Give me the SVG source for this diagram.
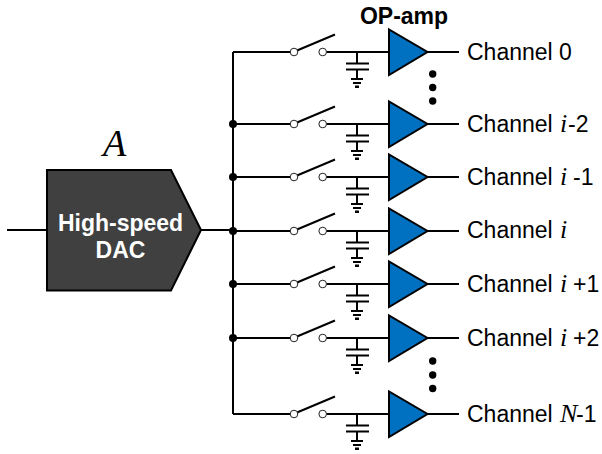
<svg xmlns="http://www.w3.org/2000/svg" width="602" height="454" viewBox="0 0 602 454">
<style>
.w{fill:none;stroke:#000;stroke-width:2}
.t{font:23px "Liberation Sans",Arial,sans-serif;fill:#000}
.b{font:bold 23px "Liberation Sans",Arial,sans-serif}
.m{font:italic 26px "Liberation Serif","Times New Roman",serif}
.amp{fill:#0070c0;stroke:#000;stroke-width:2}
.sw{fill:#fff;stroke:#222;stroke-width:1}
</style>
<defs>
<g id="ch">
<path class="w" d="M297.500 0H290M326.500 0H389M297 -1.500L335 -17.500M357 0V11.500M346 11.500H369M346 17.500H369M357 17.500V27M351 27H363M353 31H361" />
<path d="M355 33.500h4v2.500h-4z"/>
<circle class="sw" cx="294" cy="0" r="3.800"/><circle class="sw" cx="322.700" cy="0" r="3.800"/>
<path class="amp" d="M389 -22.500V23L427.500 0Z"/>
<path class="w" d="M427.500 0H459"/>
</g>
</defs>
<g id="connectors">
<path class="w" d="M7 230H47M201 230H233M233 52V414M233 52H290M233 124H290M233 177H290M233 231H290M233 284H290M233 338H290M233 414H290"/>
<circle cx="233" cy="124" r="4"/><circle cx="233" cy="177" r="4"/><circle cx="233" cy="231" r="4"/><circle cx="233" cy="284" r="4"/><circle cx="233" cy="338" r="4"/>
</g>
<g id="dac">
<path d="M47 170H171L201 230L171 290.500H47Z" fill="#404040" stroke="#000" stroke-width="2"/>
<text class="b" x="120.500" y="231" text-anchor="middle" fill="#fff">High-speed</text>
<text class="b" x="120.500" y="258" text-anchor="middle" fill="#fff">DAC</text>
<text x="103" y="156" font-family="Liberation Serif,serif" font-style="italic" font-size="38">A</text>
</g>
<text id="opamp-label" class="b" x="404" y="24" text-anchor="middle">OP-amp</text>
<g id="channel-0"><use href="#ch" y="52"/><text class="t" x="467" y="60">Channel 0</text></g>
<g id="channel-i-2"><use href="#ch" y="124"/><text class="t" x="467" y="132">Channel</text><text class="m" x="560" y="132">i</text><text class="t" x="568" y="132">-2</text></g>
<g id="channel-i-1"><use href="#ch" y="177"/><text class="t" x="467" y="185">Channel</text><text class="m" x="560" y="185">i</text><text class="t" x="573" y="185">-1</text></g>
<g id="channel-i"><use href="#ch" y="231"/><text class="t" x="467" y="238">Channel</text><text class="m" x="560" y="238">i</text></g>
<g id="channel-i+1"><use href="#ch" y="284"/><text class="t" x="467" y="292">Channel</text><text class="m" x="560" y="292">i</text><text class="t" x="573" y="292">+1</text></g>
<g id="channel-i+2"><use href="#ch" y="338"/><text class="t" x="467" y="346">Channel</text><text class="m" x="560" y="346">i</text><text class="t" x="573" y="346">+2</text></g>
<g id="channel-n-1"><use href="#ch" y="414"/><text class="t" x="467" y="422">Channel</text><text class="m" x="560" y="422">N</text><text class="t" x="576" y="422">-1</text></g>
<g id="dots-top"><circle cx="432.700" cy="74" r="3.700"/><circle cx="432.700" cy="87.500" r="3.700"/><circle cx="432.700" cy="101" r="3.700"/></g>
<g id="dots-bottom"><circle cx="432.700" cy="361" r="3.700"/><circle cx="432.700" cy="375" r="3.700"/><circle cx="432.700" cy="388.500" r="3.700"/></g>
</svg>
